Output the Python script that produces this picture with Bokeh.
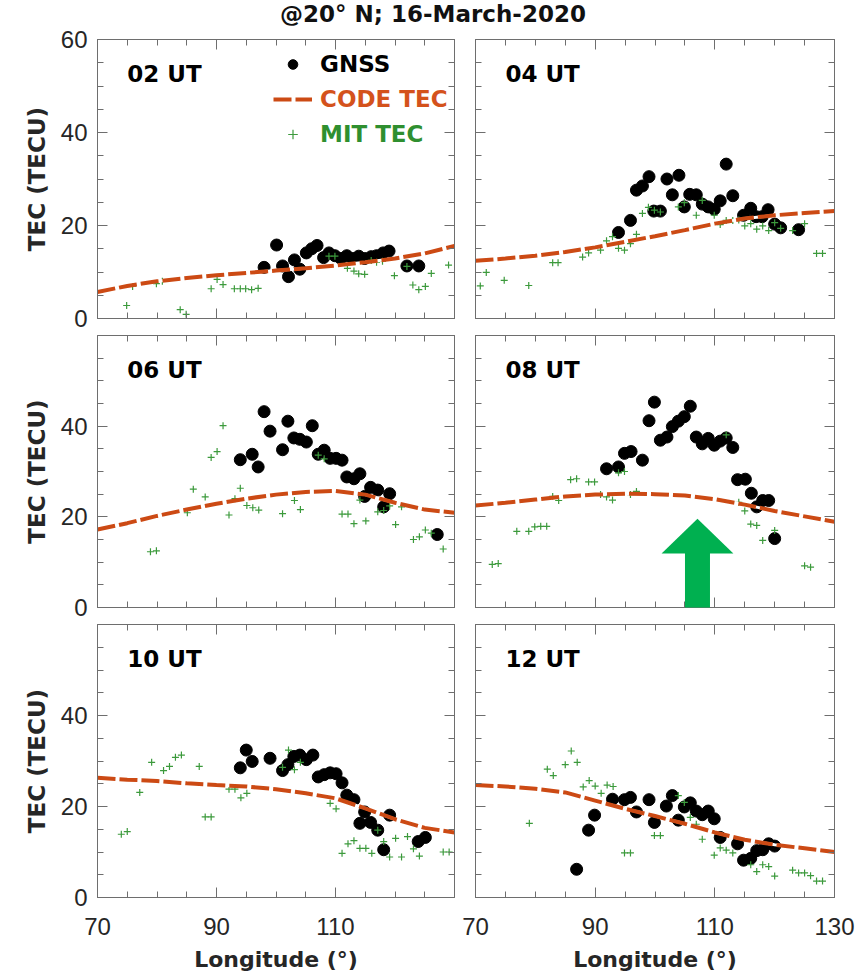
from bokeh.plotting import figure
from bokeh.layouts import column, gridplot
from bokeh.models import (FixedTicker, LinearAxis, Label, Legend, LegendItem,
                          PolyAnnotation, Div, Range1d, Arrow, CustomLabelingPolicy)
from bokeh.embed import file_html
from bokeh.resources import INLINE

# ---------------- data ----------------
CODE_LON = [70, 75, 80, 85, 90, 95, 100, 105, 110, 115, 120, 125, 130]

# 02 UT
gnss_02_lon = [98.0, 100.1, 101.1, 102.1, 103.1, 104.0, 105.1, 106.0, 106.9, 108.0, 108.9, 109.9,
               110.9, 111.9, 113.0, 113.9, 114.9, 116.0, 116.9, 118.0, 119.0, 122.0, 124.0]
gnss_02_tec = [11.0, 15.8, 11.3, 9.0, 12.6, 10.6, 14.1, 15.0, 15.7, 13.1, 14.1, 13.5,
               12.9, 13.5, 12.9, 13.4, 12.9, 13.3, 13.5, 14.1, 14.5, 11.3, 11.3]
mit_02_lon = [74.9, 75.9, 79.9, 80.9, 83.9, 84.9, 89.1, 90.1, 91.1, 93.0, 94.0, 94.9, 95.9, 97.0,
              108.9, 109.9, 112.0, 113.1, 113.9, 114.9, 116.0, 116.9, 117.9, 119.9, 122.0, 123.0,
              124.0, 125.1, 126.1, 129.0]
mit_02_tec = [2.8, 6.9, 7.5, 8.0, 1.9, 0.9, 6.4, 8.4, 7.3, 6.4, 6.4, 6.4, 6.2, 6.5,
              13.4, 13.4, 10.8, 10.2, 9.6, 9.5, 12.5, 12.1, 12.3, 9.2, 11.2, 7.2,
              6.2, 6.9, 9.7, 11.5]
code_02 = [5.7, 7.0, 8.0, 8.7, 9.3, 9.8, 10.3, 10.8, 11.4, 12.1, 12.9, 14.0, 15.6]

# 04 UT
gnss_04_lon = [93.9, 95.9, 96.9, 97.9, 99.0, 99.8, 100.9, 102.0, 102.9, 104.0, 104.9, 105.8, 106.9,
               107.9, 108.9, 109.9, 110.9, 111.9, 113.0, 114.8, 116.0, 116.9, 117.9, 118.9, 120.0,
               121.0, 124.0]
gnss_04_tec = [18.5, 21.1, 27.6, 28.5, 30.5, 23.1, 23.1, 30.0, 26.6, 30.8, 24.0, 26.7, 26.6,
               24.6, 24.0, 23.5, 25.3, 33.2, 26.4, 22.2, 23.7, 21.9, 21.9, 23.4, 20.3,
               19.5, 19.1]
mit_04_lon = [70.8, 71.8, 74.8, 78.9, 82.9, 83.8, 87.9, 88.9, 90.9, 91.9, 92.9, 93.9, 94.9, 95.9,
              96.9, 97.9, 98.9, 99.9, 100.9, 103.9, 104.9, 106.9, 107.9, 109.9, 110.9, 111.9,
              113.0, 114.0, 115.0, 116.0, 117.0, 118.0, 119.0, 120.0, 121.0, 123.0, 125.0,
              127.0, 128.0]
mit_04_tec = [7.0, 9.9, 8.2, 7.1, 12.0, 12.0, 13.2, 14.1, 14.7, 16.7, 17.6, 15.1, 14.7, 16.1,
              18.1, 22.6, 23.9, 23.3, 22.9, 24.0, 24.9, 22.2, 25.4, 22.2, 20.2, 21.1,
              21.1, 21.2, 19.9, 20.4, 19.2, 19.9, 18.9, 20.6, 19.4, 18.9, 20.4,
              14.0, 14.0]
code_04 = [12.4, 12.9, 13.5, 14.3, 15.3, 16.5, 17.7, 19.0, 20.4, 21.5, 22.2, 22.7, 23.1]

# 06 UT
gnss_06_lon = [94.0, 96.0, 97.0, 98.0, 99.0, 101.1, 102.0, 103.0, 104.0, 105.1, 106.1, 107.1, 108.1,
               109.1, 110.1, 111.1, 111.9, 113.1, 114.1, 114.9, 115.9, 117.1, 118.1, 119.1, 127.1]
gnss_06_tec = [32.6, 33.8, 31.0, 43.2, 38.9, 34.8, 41.1, 37.4, 37.1, 36.5, 40.1, 33.8, 34.7,
               32.9, 32.9, 32.5, 28.8, 28.4, 29.5, 24.5, 26.5, 25.9, 22.2, 25.1, 16.1]
mit_06_lon = [78.9, 79.9, 85.1, 86.1, 88.1, 89.1, 90.1, 91.1, 92.1, 93.1, 94.0, 95.1, 96.1, 97.1,
              101.1, 103.1, 104.1, 107.1, 108.1, 111.1, 112.1, 113.1, 114.1, 115.1, 117.1, 118.1,
              119.1, 120.1, 121.1, 123.1, 124.1, 125.1, 126.1, 128.1]
mit_06_tec = [12.3, 12.5, 20.9, 26.1, 24.4, 33.1, 34.4, 40.1, 20.4, 24.0, 26.3, 22.5, 22.0, 21.5,
              20.7, 23.6, 21.6, 33.6, 32.8, 20.6, 20.6, 18.5, 23.7, 19.1, 21.1, 21.4,
              22.4, 18.3, 22.2, 15.0, 15.6, 17.1, 16.4, 12.9]
code_06 = [17.2, 18.6, 20.2, 21.6, 22.9, 24.0, 24.9, 25.5, 25.7, 24.9, 23.1, 21.6, 20.9]

# 08 UT
gnss_08_lon = [91.9, 93.9, 94.9, 96.0, 97.9, 99.0, 99.9, 100.9, 102.0, 102.9, 103.9, 104.9, 105.9,
               106.9, 107.9, 108.9, 109.9, 110.9, 111.9, 113.0, 113.8, 115.1, 116.1, 117.0, 118.0,
               119.0, 120.0]
gnss_08_tec = [30.6, 31.0, 34.0, 34.4, 32.5, 41.2, 45.3, 36.9, 37.6, 39.9, 41.1, 42.1, 44.4,
               37.6, 36.1, 37.3, 35.8, 36.7, 37.4, 35.3, 28.2, 28.3, 25.2, 22.2, 23.6,
               23.6, 15.2]
mit_08_lon = [72.8, 73.8, 76.9, 78.9, 79.9, 80.9, 81.9, 82.9, 83.9, 85.9, 86.9, 88.9, 89.9, 90.9,
              91.9, 92.9, 93.9, 94.9, 95.9, 96.9, 111.9, 114.0, 115.0, 116.0, 117.0, 118.0,
              120.0, 125.0, 126.0]
mit_08_tec = [9.5, 9.7, 16.8, 16.8, 17.8, 17.9, 17.9, 24.5, 23.6, 28.2, 28.4, 27.7, 27.7, 24.9,
              24.4, 23.7, 29.7, 30.0, 24.9, 25.6, 38.1, 23.2, 21.3, 18.4, 18.1, 14.8,
              17.0, 9.2, 8.9]
code_08 = [22.5, 23.1, 23.8, 24.5, 24.9, 25.1, 25.0, 24.7, 23.9, 22.7, 21.3, 20.1, 18.9]

# 10 UT
gnss_10_lon = [94.0, 95.0, 96.0, 99.0, 101.1, 102.0, 103.0, 104.0, 105.1, 106.2, 107.1, 108.1, 109.1,
               110.1, 111.1, 111.9, 113.1, 114.1, 114.9, 115.9, 117.1, 118.1, 119.1, 123.9, 125.1]
gnss_10_tec = [28.5, 32.4, 29.9, 30.6, 27.9, 29.2, 31.0, 31.3, 30.3, 31.3, 26.5, 27.0, 27.4,
               27.2, 25.2, 22.5, 21.5, 16.3, 18.8, 16.5, 14.8, 10.5, 18.1, 12.3, 13.2]
mit_10_lon = [74.0, 75.0, 77.1, 79.1, 81.1, 82.1, 83.1, 84.1, 87.1, 88.1, 89.1, 92.1, 93.1, 94.1,
              95.1, 101.1, 102.1, 103.1, 104.1, 109.1, 110.1, 111.1, 112.1, 113.1, 114.1, 115.1,
              116.1, 117.1, 118.1, 119.1, 120.1, 121.1, 122.1, 123.1, 124.1, 128.1, 129.1]
mit_10_tec = [13.9, 14.5, 23.1, 29.7, 27.9, 28.8, 30.8, 31.3, 28.8, 17.7, 17.7, 23.8, 23.8, 21.9,
              22.9, 28.6, 32.4, 28.1, 29.7, 20.7, 19.5, 9.7, 11.8, 12.5, 10.8, 10.8,
              9.7, 14.8, 12.3, 8.9, 13.0, 8.9, 13.4, 10.7, 9.1, 10.0, 10.0]
code_10 = [26.3, 25.9, 25.6, 25.1, 24.7, 24.4, 23.8, 22.9, 21.8, 19.6, 17.2, 15.3, 14.3]

# 12 UT
gnss_12_lon = [86.9, 88.9, 89.9, 92.9, 94.9, 95.9, 96.9, 99.0, 99.9, 101.9, 102.9, 103.9, 104.9,
               105.9, 106.9, 107.9, 108.9, 109.9, 110.9, 113.8, 114.8, 116.0, 117.0, 118.0, 119.0,
               120.0]
gnss_12_tec = [6.2, 14.8, 18.1, 21.6, 21.5, 22.0, 18.8, 21.5, 16.5, 20.1, 22.4, 17.0, 19.9,
               20.8, 19.0, 18.2, 19.0, 17.3, 13.2, 11.8, 8.2, 8.6, 10.3, 10.5, 11.8,
               11.3]
mit_12_lon = [79.0, 82.0, 83.0, 85.0, 86.0, 87.0, 88.0, 89.0, 90.0, 91.0, 92.0, 93.0, 94.9, 95.9,
              99.9, 100.9, 103.9, 104.9, 105.9, 106.9, 107.9, 109.9, 110.9, 111.9, 113.0, 116.0,
              117.0, 118.0, 119.0, 120.0, 123.0, 124.0, 125.0, 126.0, 127.0, 128.0]
mit_12_tec = [16.3, 28.2, 26.8, 29.2, 32.2, 29.7, 24.3, 25.7, 24.5, 22.9, 24.7, 24.4, 9.8, 9.8,
              13.6, 13.6, 22.4, 20.9, 17.6, 16.1, 12.8, 9.3, 10.9, 10.4, 9.8, 7.2,
              5.7, 7.2, 6.8, 4.7, 6.0, 5.4, 5.4, 4.8, 3.6, 3.6]
code_12 = [24.7, 24.4, 23.9, 23.1, 21.3, 19.5, 17.9, 16.2, 14.3, 12.7, 11.6, 10.8, 10.0]

UT_LABELS = ["02 UT", "04 UT", "06 UT", "08 UT", "10 UT", "12 UT"]
X_MAJOR = [70, 90, 110, 130]
X_MAJOR_LEFT = [70, 90, 110]
X_MINOR = list(range(70, 131, 5))
Y_MAJOR = [0, 20, 40, 60]
Y_MAJOR_LOWER = [0, 20, 40]
Y_MINOR = list(range(0, 61, 5))

TITLE = "@20° N; 16-March-2020"
X_TITLE = "Longitude (°)"
Y_TITLE = "TEC (TECU)"

# arrow (08 UT panel, data units)
ARROW_X = 107.1
ARROW_SHAFT_BOTTOM = -3.0
ARROW_HEAD_BASE = 11.9
ARROW_HEAD_X = [101.1, 107.1, 113.1]
ARROW_HEAD_Y = [11.9, 19.6, 11.9]

# ---------------- style ----------------
AX_COLOR = "#6e6e6e"
CODE_COLOR = "#cc4a14"
CODE_TEXT = "#d4521c"
MIT_COLOR = "#3c9a3c"
MIT_TEXT = "#2f8f2f"
ARROW_COLOR = "#00b050"
BOLD_FONT = "DejaVu Sans"
TICK_FONT = "Liberation Sans"

panels = [
    (gnss_02_lon, gnss_02_tec, mit_02_lon, mit_02_tec, code_02),
    (gnss_04_lon, gnss_04_tec, mit_04_lon, mit_04_tec, code_04),
    (gnss_06_lon, gnss_06_tec, mit_06_lon, mit_06_tec, code_06),
    (gnss_08_lon, gnss_08_tec, mit_08_lon, mit_08_tec, code_08),
    (gnss_10_lon, gnss_10_tec, mit_10_lon, mit_10_tec, code_10),
    (gnss_12_lon, gnss_12_tec, mit_12_lon, mit_12_tec, code_12),
]

ROW_BORDERS = [(14, 279, 13), (1, 275, 13), (1, 276, 77)]
COL_BORDERS = [(97, 360, 1), (17, 359, 32)]

HIDE_ALL = "for (const i of indices) { indices.unset(i) }\nreturn indices"


def style_axis(ax, show_labels):
    ax.axis_line_color = AX_COLOR
    ax.major_tick_line_color = AX_COLOR
    ax.minor_tick_line_color = AX_COLOR
    ax.major_tick_in = 10
    ax.major_tick_out = 0
    ax.minor_tick_in = 6
    ax.minor_tick_out = 0
    if show_labels:
        ax.major_label_text_font = TICK_FONT
        ax.major_label_text_font_size = "24px"
        ax.major_label_text_color = "#262626"
        ax.major_label_standoff = 10
    else:
        ax.major_label_text_font_size = "1px"
        ax.major_label_standoff = 0
        ax.major_label_policy = CustomLabelingPolicy(code=HIDE_ALL)


figs = []
for i, (glon, gtec, mlon, mtec, ctec) in enumerate(panels):
    r, c = divmod(i, 2)
    bt, fh, bb = ROW_BORDERS[r]
    bl, fw, br = COL_BORDERS[c]
    p = figure(width=bl + fw + br, height=bt + fh + bb,
               x_range=Range1d(70, 130), y_range=Range1d(0, 60),
               x_axis_location=None, y_axis_location=None,
               toolbar_location=None, output_backend="svg",
               min_border_left=bl, min_border_right=br,
               min_border_top=bt, min_border_bottom=bb)
    p.xgrid.visible = False
    p.ygrid.visible = False
    p.outline_line_color = None
    p.background_fill_color = "white"
    p.border_fill_color = "white"

    bottom_labels = (r == 2)
    xticks = X_MAJOR_LEFT if (bottom_labels and c == 0) else X_MAJOR
    xb = LinearAxis(ticker=FixedTicker(ticks=xticks, minor_ticks=X_MINOR))
    style_axis(xb, bottom_labels)
    if bottom_labels:
        xb.major_label_standoff = 20
        xb.axis_label = X_TITLE
        xb.axis_label_text_font = BOLD_FONT
        xb.axis_label_text_font_style = "bold"
        xb.axis_label_text_font_size = "22px"
        xb.axis_label_text_color = "#262626"
        xb.axis_label_standoff = 9
    p.add_layout(xb, "below")
    xa = LinearAxis(ticker=FixedTicker(ticks=X_MAJOR, minor_ticks=X_MINOR))
    style_axis(xa, False)
    p.add_layout(xa, "above")

    left_labels = (c == 0)
    yticks = Y_MAJOR if r == 0 else Y_MAJOR_LOWER
    yl = LinearAxis(ticker=FixedTicker(ticks=yticks if left_labels else Y_MAJOR,
                                       minor_ticks=Y_MINOR))
    style_axis(yl, left_labels)
    if left_labels:
        yl.axis_label = Y_TITLE
        yl.axis_label_text_font = BOLD_FONT
        yl.axis_label_text_font_style = "bold"
        yl.axis_label_text_font_size = "23px"
        yl.axis_label_text_color = "#262626"
        yl.axis_label_standoff = 8
    p.add_layout(yl, "left")
    yr = LinearAxis(ticker=FixedTicker(ticks=Y_MAJOR, minor_ticks=Y_MINOR))
    style_axis(yr, False)
    p.add_layout(yr, "right")

    g = p.scatter(glon, gtec, marker="circle", size=12, fill_color="black",
                  line_color="black")
    m = p.scatter(mlon, mtec, marker="cross", size=7, line_color=MIT_COLOR,
                  line_width=1.2)
    p.line(CODE_LON, ctec, line_color="white", line_width=3)
    cl = p.line(CODE_LON, ctec, line_color=CODE_COLOR, line_width=4, line_dash="18 4")

    p.add_layout(Label(x=75, y=52.5, text=UT_LABELS[i], text_font=BOLD_FONT,
                       text_font_style="bold", text_font_size="23px",
                       text_color="black", text_baseline="middle"))

    if i == 0:
        for item_label, rend, color, ypos in [("GNSS", g, "black", 241),
                                               ("CODE TEC", cl, CODE_TEXT, 206),
                                               ("MIT TEC", m, MIT_TEXT, 171)]:
            lg = Legend(items=[LegendItem(label=item_label, renderers=[rend])],
                        location=(176, ypos), padding=0, margin=0,
                        border_line_color=None, background_fill_alpha=0,
                        glyph_width=39, glyph_height=24, label_height=24,
                        label_standoff=8, label_text_font=BOLD_FONT,
                        label_text_font_style="bold", label_text_font_size="23px",
                        label_text_color=color)
            p.add_layout(lg, "center")

    if i == 3:
        p.add_layout(Arrow(x_start=ARROW_X, y_start=ARROW_SHAFT_BOTTOM,
                           x_end=ARROW_X, y_end=ARROW_HEAD_BASE + 0.3, end=None,
                           line_color=ARROW_COLOR, line_width=25, line_cap="butt"))
        p.add_layout(PolyAnnotation(xs=ARROW_HEAD_X, ys=ARROW_HEAD_Y,
                                    fill_color=ARROW_COLOR, fill_alpha=1.0,
                                    line_color=None))
    figs.append(p)

grid = gridplot([[figs[0], figs[1]], [figs[2], figs[3]], [figs[4], figs[5]]],
                toolbar_location=None)

title = Div(text=TITLE, width=866, height=25, margin=0,
            styles={"font-family": BOLD_FONT, "font-weight": "bold",
                    "font-size": "23px", "line-height": "28px",
                    "text-align": "center", "color": "#111111",
                    "overflow": "visible"})

layout = column(title, grid)
open("out.html", "w").write(file_html(layout, INLINE))
